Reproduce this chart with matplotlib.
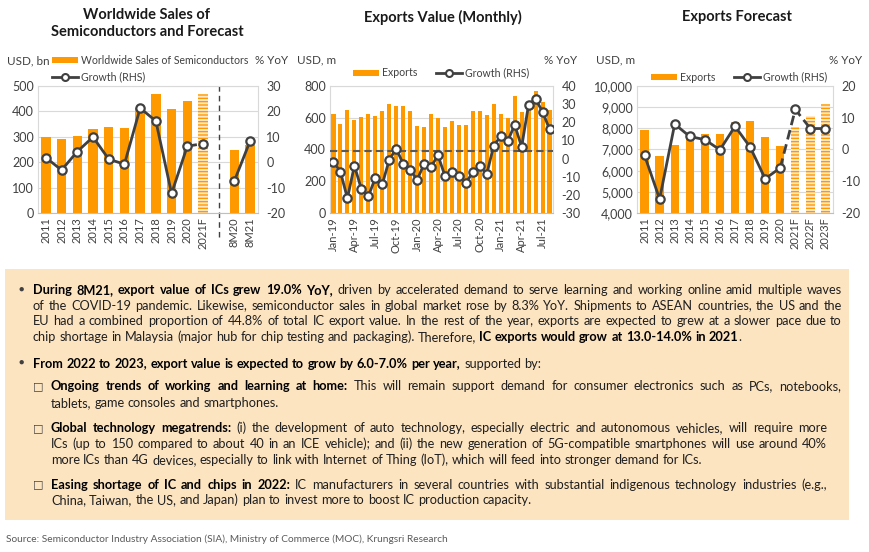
import re
import numpy as np
import matplotlib
matplotlib.use("Agg")
import matplotlib.pyplot as plt
from matplotlib.patches import Patch, Rectangle
from matplotlib.lines import Line2D
from matplotlib.ticker import FuncFormatter

plt.rcParams['font.family'] = ['Lato', 'DejaVu Sans']
plt.rcParams['hatch.linewidth'] = 1.0
plt.rcParams['axes.unicode_minus'] = False

# ---------------- data ----------------
ws_labels = ['2011', '2012', '2013', '2014', '2015', '2016', '2017', '2018', '2019',
             '2020', '2021F', '', '8M20', '8M21']
ws_sales = [301, 293, 302, 332, 337, 334, 412, 469, 411, 439, 469, np.nan, 248, 266]
ws_growth = [1.8, -3.1, 4.2, 9.9, 1.2, -0.8, 21.3, 16.2, -12.3, 6.3, 7.3, np.nan, -7.3, 8.4]

months = ['Jan-19', 'Feb-19', 'Mar-19', 'Apr-19', 'May-19', 'Jun-19', 'Jul-19', 'Aug-19',
          'Sep-19', 'Oct-19', 'Nov-19', 'Dec-19', 'Jan-20', 'Feb-20', 'Mar-20', 'Apr-20',
          'May-20', 'Jun-20', 'Jul-20', 'Aug-20', 'Sep-20', 'Oct-20', 'Nov-20', 'Dec-20',
          'Jan-21', 'Feb-21', 'Mar-21', 'Apr-21', 'May-21', 'Jun-21', 'Jul-21', 'Aug-21']
m_exports = [623, 560, 648, 585, 602, 623, 613, 640, 686, 674, 674, 640, 547, 543, 621, 598,
             543, 577, 554, 554, 640, 644, 615, 686, 621, 598, 737, 636, 695, 770, 701, 648]
m_growth = [-1.8, -7.4, -21.9, -3.9, -16.8, -20.8, -10.7, -14.2, -0.7, 5.5, -2.9, -6.1,
            -11.8, -2.9, -4.4, 1.7, -9.6, -7.6, -9.6, -13.3, -7.6, -4.2, -8.5, 7.2,
            12.3, 9.6, 18.6, 6.4, 29.8, 32.8, 25.8, 16.2]
m_ref_growth = 4.2

fc_labels = ['2011', '2012', '2013', '2014', '2015', '2016', '2017', '2018', '2019',
             '2020', '2021F', '2022F', '2023F']
fc_exports = [7915, 6700, 7220, 7670, 7725, 7725, 8280, 8340, 7570, 7160, 8070, 8580, 9150]
fc_growth = [-1.8, -15.6, 8.0, 4.1, 3.1, -0.1, 7.3, 0.8, -9.2, -5.8, 12.6, 6.6, 6.6]

# ---------------- style ----------------
W, H = 870, 552
ORANGE = '#FF9900'
PALE = '#FFE9C9'
LINE = '#404040'
GRID = '#D9D9D9'
TXT = '#404040'

fig = plt.figure(figsize=(W / 100, H / 100), dpi=100)


def rect(x0, y0, x1, y1):
    return [x0 / W, 1 - y1 / H, (x1 - x0) / W, (y1 - y0) / H]


def fx(x):
    return x / W


def fy(y):
    return 1 - y / H


def style_axes(ax, axr, rot=90, xsize=8):
    ax.set_axisbelow(True)
    ax.yaxis.grid(True, color=GRID, lw=0.8)
    for s in ax.spines.values():
        s.set_color(GRID)
        s.set_linewidth(0.8)
    ax.spines['bottom'].set_color('#BFBFBF')
    for s in axr.spines.values():
        s.set_visible(False)
    ax.tick_params(length=0, labelsize=9, colors=TXT, pad=3)
    axr.tick_params(length=0, labelsize=9, colors=TXT, pad=6)
    ax.tick_params(axis='x', labelsize=xsize, rotation=rot, pad=3)


def growth_line(axr, x, y, dashed=False):
    axr.plot(x, y, color=LINE, lw=2, ls=(0, (3.5, 1.8)) if dashed else '-',
             solid_capstyle='round', zorder=3)


def growth_marks(axr, x, y):
    axr.plot(x, y, ls='none', marker='o', ms=6, mfc='white', mec=LINE, mew=1.6, zorder=4)


def legend(ax, x, y, bar_label, ncol):
    handles = [Patch(facecolor=ORANGE, edgecolor='none', label=bar_label),
               Line2D([], [], color=LINE, lw=2, marker='o', ms=5, mfc='white',
                      mec=LINE, mew=1.5, label='Growth (RHS)')]
    ax.legend(handles=handles, loc='center left', bbox_to_anchor=(fx(x), fy(y)),
              bbox_transform=fig.transFigure, frameon=False, ncol=ncol, fontsize=7.6,
              handlelength=2.45, handleheight=0.5, handletextpad=0.3, columnspacing=1.8,
              borderpad=0, borderaxespad=0, labelspacing=0.55, labelcolor=TXT)


# ---------------- chart 1: worldwide sales ----------------
ax1 = fig.add_axes(rect(38, 86, 258, 213))
x1 = np.arange(len(ws_labels))
is_fc = np.array([lab.endswith('F') for lab in ws_labels])
sales = np.array(ws_sales, dtype=float)
ax1.bar(x1[~is_fc], sales[~is_fc], width=0.6, color=ORANGE, lw=0)
ax1.bar(x1[is_fc], sales[is_fc], width=0.6, color=PALE, edgecolor=ORANGE, hatch='-----', lw=0)
ax1.set_ylim(0, 500)
ax1.set_yticks(range(0, 501, 100))
ax1.set_xlim(-0.5, len(ws_labels) - 0.5)
ax1.set_xticks(x1)
ax1.set_xticklabels(ws_labels)
ax1r = ax1.twinx()
ax1r.set_ylim(-20, 30)
ax1r.set_yticks(range(-20, 31, 10))
g1 = np.array(ws_growth)
growth_line(ax1r, x1[:10], g1[:10])
growth_line(ax1r, x1[9:11], g1[9:11], dashed=True)
growth_line(ax1r, x1[12:], g1[12:])
growth_marks(ax1r, x1, g1)
ax1.axvline(ws_labels.index(''), ymin=-0.19, ymax=1, color=LINE, lw=1,
            ls=(0, (4, 3)), clip_on=False)
style_axes(ax1, ax1r)
legend(ax1, 52, 68.5, 'Worldwide Sales of Semiconductors', 1)

# ---------------- chart 2: monthly exports ----------------
ax2 = fig.add_axes(rect(330, 86, 553, 213))
x2 = np.arange(len(months))
ax2.bar(x2, m_exports, width=0.58, color=ORANGE, lw=0)
ax2.set_ylim(0, 800)
ax2.set_yticks(range(0, 801, 200))
ax2.set_xlim(-0.5, len(months) - 0.5)
ax2.set_xticks(x2[::3])
ax2.set_xticklabels(months[::3])
ax2r = ax2.twinx()
ax2r.set_ylim(-30, 40)
ax2r.set_yticks(range(-30, 41, 10))
ax2r.axhline(m_ref_growth, color='#595959', lw=1.5, ls=(0, (3.5, 2)), zorder=2)
growth_line(ax2r, x2, m_growth)
growth_marks(ax2r, x2, m_growth)
style_axes(ax2, ax2r)
legend(ax2, 353, 73, 'Exports', 2)

# ---------------- chart 3: exports forecast ----------------
ax3 = fig.add_axes(rect(637, 86, 833, 213))
x3 = np.arange(len(fc_labels))
is_fc3 = np.array([lab.endswith('F') for lab in fc_labels])
ex3 = np.array(fc_exports, dtype=float)
ax3.bar(x3[~is_fc3], ex3[~is_fc3], width=0.55, color=ORANGE, lw=0)
ax3.bar(x3[is_fc3], ex3[is_fc3], width=0.55, color=PALE, edgecolor=ORANGE, hatch='-----', lw=0)
ax3.set_ylim(4000, 10000)
ax3.set_yticks(range(4000, 10001, 1000))
ax3.yaxis.set_major_formatter(FuncFormatter(lambda v, p: f'{v:,.0f}'))
ax3.set_xlim(-0.5, len(fc_labels) - 0.5)
ax3.set_xticks(x3)
ax3.set_xticklabels(fc_labels)
ax3r = ax3.twinx()
ax3r.set_ylim(-20, 20)
ax3r.set_yticks(range(-20, 21, 10))
g3 = np.array(fc_growth)
growth_line(ax3r, x3[:10], g3[:10])
growth_line(ax3r, x3[9:], g3[9:], dashed=True)
growth_marks(ax3r, x3, g3)
style_axes(ax3, ax3r)
legend(ax3, 651, 77, 'Exports', 2)

# ---------------- titles and unit labels ----------------
tkw = dict(fontsize=10.5, fontweight='bold', color='#1A1A1A', ha='center', va='center')
fig.text(fx(147), fy(15), 'Worldwide Sales of', **tkw)
fig.text(fx(147), fy(32), 'Semiconductors and Forecast', **tkw)
fig.text(fx(443), fy(17), 'Exports Value (Monthly)', **tkw)
fig.text(fx(737), fy(17), 'Exports Forecast', **tkw)

ukw = dict(fontsize=8.4, color=TXT, va='center')
fig.text(fx(7), fy(61), 'USD, bn', ha='left', **ukw)
fig.text(fx(288), fy(61), '% YoY', ha='right', **ukw)
fig.text(fx(297), fy(60), 'USD, m', ha='left', **ukw)
fig.text(fx(577), fy(60), '% YoY', ha='right', **ukw)
fig.text(fx(596), fy(60), 'USD, m', ha='left', **ukw)
fig.text(fx(862), fy(60), '% YoY', ha='right', **ukw)

# ---------------- commentary box ----------------
fig.add_artist(Rectangle((fx(5), fy(520)), (849 - 5) / W, (520 - 269) / H,
                         transform=fig.transFigure, facecolor='#FDE4C1', edgecolor='none',
                         zorder=0))

renderer = fig.canvas.get_renderer()


def measure(s, bold, size):
    t = fig.text(0, 0, s, fontsize=size, fontweight='bold' if bold else 'normal')
    w = t.get_window_extent(renderer).width
    t.remove()
    return w


def words_of(segments):
    words = []
    new_word = True
    for txt, bold in segments:
        for tok in re.findall(r'\s+|\S+', txt):
            if tok.isspace():
                new_word = True
                continue
            if new_word or not words:
                words.append([(tok, bold)])
            else:
                words[-1].append((tok, bold))
            new_word = False
    return words


def natural_width(segments, size):
    words = words_of(segments)
    total = sum(measure(p, b, size) for w in words for p, b in w)
    space = measure('a a', False, size) - measure('aa', False, size)
    return total + space * (len(words) - 1)


def draw_line(segments, x0, x1, y, size, justify):
    words = words_of(segments)
    widths = [[measure(p, b, size) for p, b in w] for w in words]
    total = sum(sum(w) for w in widths)
    space = measure('a a', False, size) - measure('aa', False, size)
    gap = (x1 - x0 - total) / (len(words) - 1) if justify and len(words) > 1 else space
    x = x0
    for w, ws in zip(words, widths):
        for (p, b), pw in zip(w, ws):
            fig.text(fx(x), fy(y), p, fontsize=size, fontweight='bold' if b else 'normal',
                     color='#000000' if b else '#1F1F1F', ha='left', va='baseline')
            x += pw
        x += gap


B = True
N = False
# (segments, x_start, x_end, y_center, justify)
lines = [
    ([('During 8M21, export value of ICs grew 19.0% YoY,', B),
      (' driven by accelerated demand to serve learning and working online amid multiple waves', N)],
     33, 842, 290, True),
    ([('of the COVID-19 pandemic. Likewise, semiconductor sales in global market rose by 8.3% YoY. '
       'Shipments to ASEAN countries, the US and the', N)], 33, 842, 305.5, True),
    ([('EU had a combined proportion of 44.8% of total IC export value. In the rest of the year, '
       'exports are expected to grew at a slower pace due to', N)], 33, 842, 321, True),
    ([('chip shortage in Malaysia (major hub for chip testing and packaging). Therefore, ', N),
      ('IC exports would grow at 13.0-14.0% in 2021', B), ('.', N)], 33, 842, 337, False),
    ([('From 2022 to 2023, export value is expected to grow by 6.0-7.0% per year,', B),
      (' supported by:', N)], 33, 842, 363.5, False),
    ([('Ongoing trends of working and learning at home:', B),
      (' This will remain support demand for consumer electronics such as PCs, notebooks,', N)],
     51, 841, 386.5, True),
    ([('tablets, game consoles and smartphones.', N)], 51, 841, 403, False),
    ([('Global technology megatrends:', B),
      (' (i) the development of auto technology, especially electric and autonomous vehicles, '
       'will require more', N)], 51, 827, 428.5, True),
    ([('ICs (up to 150 compared to about 40 in an ICE vehicle); and (ii) the new generation of '
       '5G-compatible smartphones will use around 40%', N)], 51, 827, 444, True),
    ([('more ICs than 4G devices, especially to link with Internet of Thing (IoT), which will '
       'feed into stronger demand for ICs.', N)], 51, 827, 460, False),
    ([('Easing shortage of IC and chips in 2022:', B),
      (' IC manufacturers in several countries with substantial indigenous technology '
       'industries (e.g.,', N)], 51, 827, 485, True),
    ([('China, Taiwan, the US, and Japan) plan to invest more to boost IC production capacity.', N)],
     51, 827, 500.5, False),
]

base = 10.5
ratio = min((x1 - x0) / natural_width(seg, base) for seg, x0, x1, y, j in lines if j)
size = base * min(1.0, ratio * 0.985)
for seg, x0, x1, y, j in lines:
    draw_line(seg, x0, x1, y + 4, size, j)

bkw = dict(color='#404040', ha='center', va='center')
fig.text(fx(21), fy(289), '\u25CF', fontsize=6.5, **bkw)
fig.text(fx(21), fy(362.5), '\u25CF', fontsize=6.5, **bkw)
for yb in (386, 428, 484.5):
    fig.text(fx(38), fy(yb), '\u25A1', fontsize=8, family='DejaVu Sans', **bkw)

fig.text(fx(6), fy(539), 'Source: Semiconductor Industry Association (SIA), Ministry of '
         'Commerce (MOC), Krungsri Research', fontsize=7.3, color='#595959',
         ha='left', va='center')

fig.savefig('out.png', dpi=100)
